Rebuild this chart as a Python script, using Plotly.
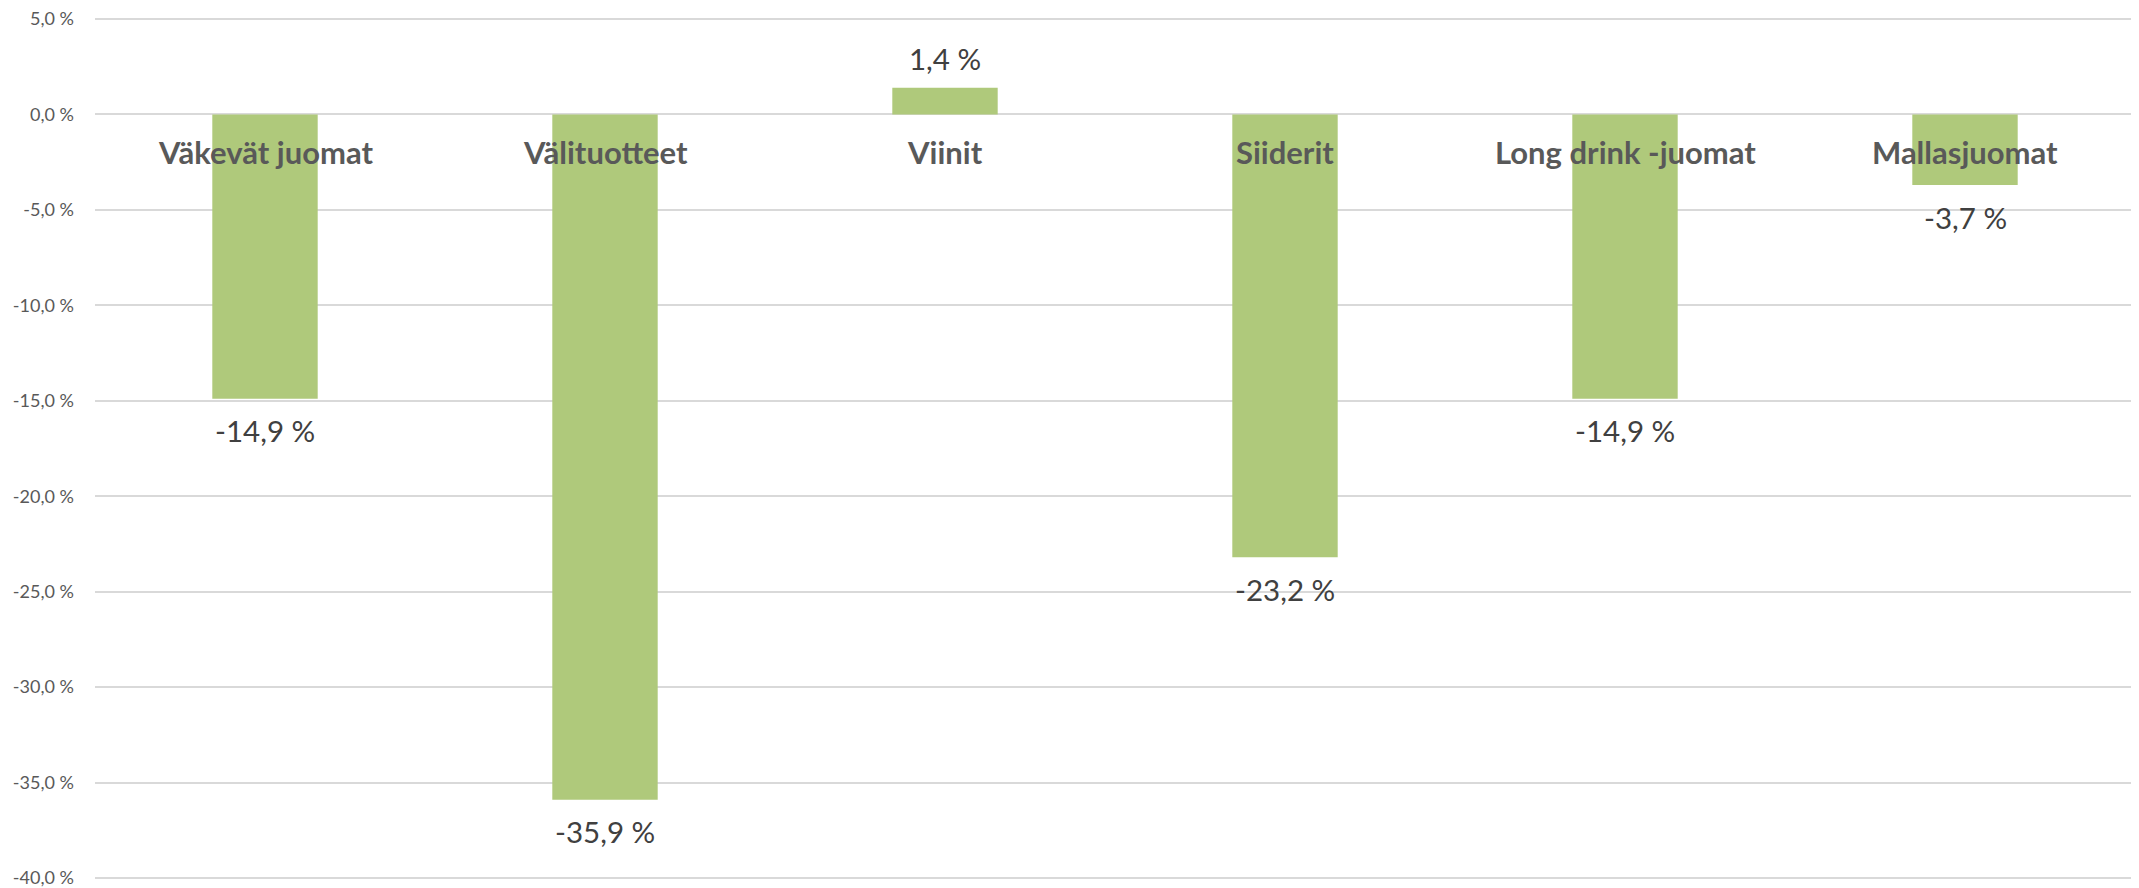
import plotly.graph_objects as go

categories = ["Väkevät juomat", "Välituotteet", "Viinit", "Siiderit", "Long drink -juomat", "Mallasjuomat"]
values = [-14.9, -35.9, 1.4, -23.2, -14.9, -3.7]
tick_vals = [5, 0, -5, -10, -15, -20, -25, -30, -35, -40]
tick_text = ["5,0 %", "0,0 %", "-5,0 %", "-10,0 %", "-15,0 %", "-20,0 %", "-25,0 %", "-30,0 %", "-35,0 %", "-40,0 %"]

FONT = "Lato"
BAR = "#AFC97B"

# layout geometry (div coordinates; the page adds an 8px body margin)
W, H = 2131, 880
T, B = 3, 2
Y_TOP_PX, Y_BOT_PX = 11, 870   # pixel rows of 5 % and -40 %
ppu = (Y_BOT_PX - Y_TOP_PX) / (5 - (-40))
r_top = 5 + (Y_TOP_PX - T) / ppu
r_bot = -40 - ((H - B) - Y_BOT_PX) / ppu

fig = go.Figure()
fig.add_trace(go.Bar(
    x=categories, y=values,
    marker=dict(color=BAR, line=dict(width=0)),
    width=0.31,
    hoverinfo="skip",
))

annotations = []
for c, v in zip(categories, values):
    label = f"{v:.1f}".replace(".", ",") + " %"
    annotations.append(dict(
        x=c, y=v, xref="x", yref="y", text=label, showarrow=False,
        yanchor="middle", yshift=(29 if v > 0 else -32),
        font=dict(family=FONT, size=29.5, color="#404040"),
    ))
    annotations.append(dict(
        x=c, y=0, xref="x", yref="y", text=f"<b>{c}</b>", showarrow=False,
        yanchor="middle", yshift=-38,
        font=dict(family=FONT, size=31, color="#595959"),
    ))

fig.update_layout(
    width=W, height=H,
    margin=dict(l=87, r=4, t=T, b=B),
    paper_bgcolor="white", plot_bgcolor="white",
    showlegend=False,
    annotations=annotations,
    xaxis=dict(showticklabels=False, showgrid=False, zeroline=False, showline=False,
               ticks="", fixedrange=True, automargin=False),
    yaxis=dict(range=[r_bot, r_top], tickvals=tick_vals, ticktext=tick_text,
               showgrid=True, gridcolor="#D9D9D9", gridwidth=1.5,
               zeroline=False, showline=False, ticks="",
               ticklabelstandoff=20, ticklabeloverflow="allow", automargin=False,
               tickfont=dict(family=FONT, size=18, color="#595959")),
)

fig.write_html("out.html")
